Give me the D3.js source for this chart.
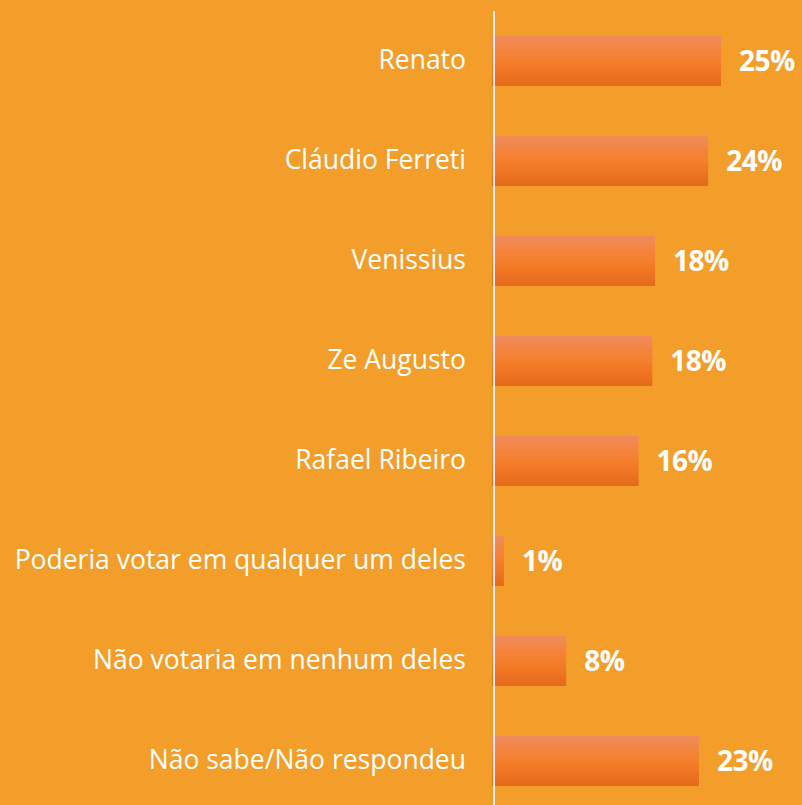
<!DOCTYPE html>
<html>
<head>
<meta charset="utf-8">
<script src="https://cdn.jsdelivr.net/npm/d3@7"></script>
<style>
  html, body { margin: 0; padding: 0; background: #F39E2A; }
  svg { display: block; }
</style>
</head>
<body>
<script>
const categories = ["Renato", "Cláudio Ferreti", "Venissius", "Ze Augusto", "Rafael Ribeiro",
  "Poderia votar em qualquer um deles", "Não votaria em nenhum deles", "Não sabe/Não respondeu"];
const values = [25.0, 23.6, 17.8, 17.5, 16.0, 1.3, 8.1, 22.6];
const valueLabels = ["25%", "24%", "18%", "18%", "16%", "1%", "8%", "23%"];

const W = 802, H = 805;
const svg = d3.select("body").append("svg").attr("width", W).attr("height", H);
svg.append("rect").attr("width", W).attr("height", H).attr("fill", "#F39E2A");

const defs = svg.append("defs");
const grad = defs.append("linearGradient").attr("id", "barGrad")
  .attr("x1", 0).attr("y1", 0).attr("x2", 0).attr("y2", 1);
grad.append("stop").attr("offset", "0%").attr("stop-color", "#F08C5C");
grad.append("stop").attr("offset", "50%").attr("stop-color", "#F57F2B");
grad.append("stop").attr("offset", "100%").attr("stop-color", "#E5691A");

const x = d3.scaleLinear().domain([0, 25]).range([492, 721]);
const y = d3.scaleBand().domain(categories).range([11, 811]).paddingInner(0.5).paddingOuter(0.25);

svg.selectAll("rect.bar").data(categories).join("rect")
  .attr("class", "bar")
  .attr("x", x(0))
  .attr("y", d => y(d))
  .attr("width", (d, i) => x(values[i]) - x(0))
  .attr("height", y.bandwidth())
  .attr("fill", "url(#barGrad)");

// axis line
const axis = d3.axisLeft(y).tickSize(0).tickPadding(28);
const ag = svg.append("g").attr("transform", `translate(494,0)`).call(axis);
ag.select(".domain").attr("stroke", "#E9E9E9").attr("stroke-width", 2)
  .attr("d", `M0,11V${H}`);
ag.selectAll(".tick text")
  .attr("fill", "#FFFFFF")
  .attr("font-family", "'Open Sans', sans-serif")
  .attr("font-size", 26.5)
  .attr("dy", "0.3em");

svg.selectAll("text.val").data(categories).join("text")
  .attr("class", "val")
  .attr("x", (d, i) => x(values[i]) + 18)
  .attr("y", d => y(d) + y.bandwidth() / 2)
  .attr("dy", "0.36em")
  .attr("fill", "#FFFFFF")
  .attr("font-family", "'Open Sans', sans-serif")
  .attr("font-weight", "bold")
  .attr("font-size", 28)
  .attr("letter-spacing", -0.5)
  .text((d, i) => valueLabels[i]);
</script>
</body>
</html>
